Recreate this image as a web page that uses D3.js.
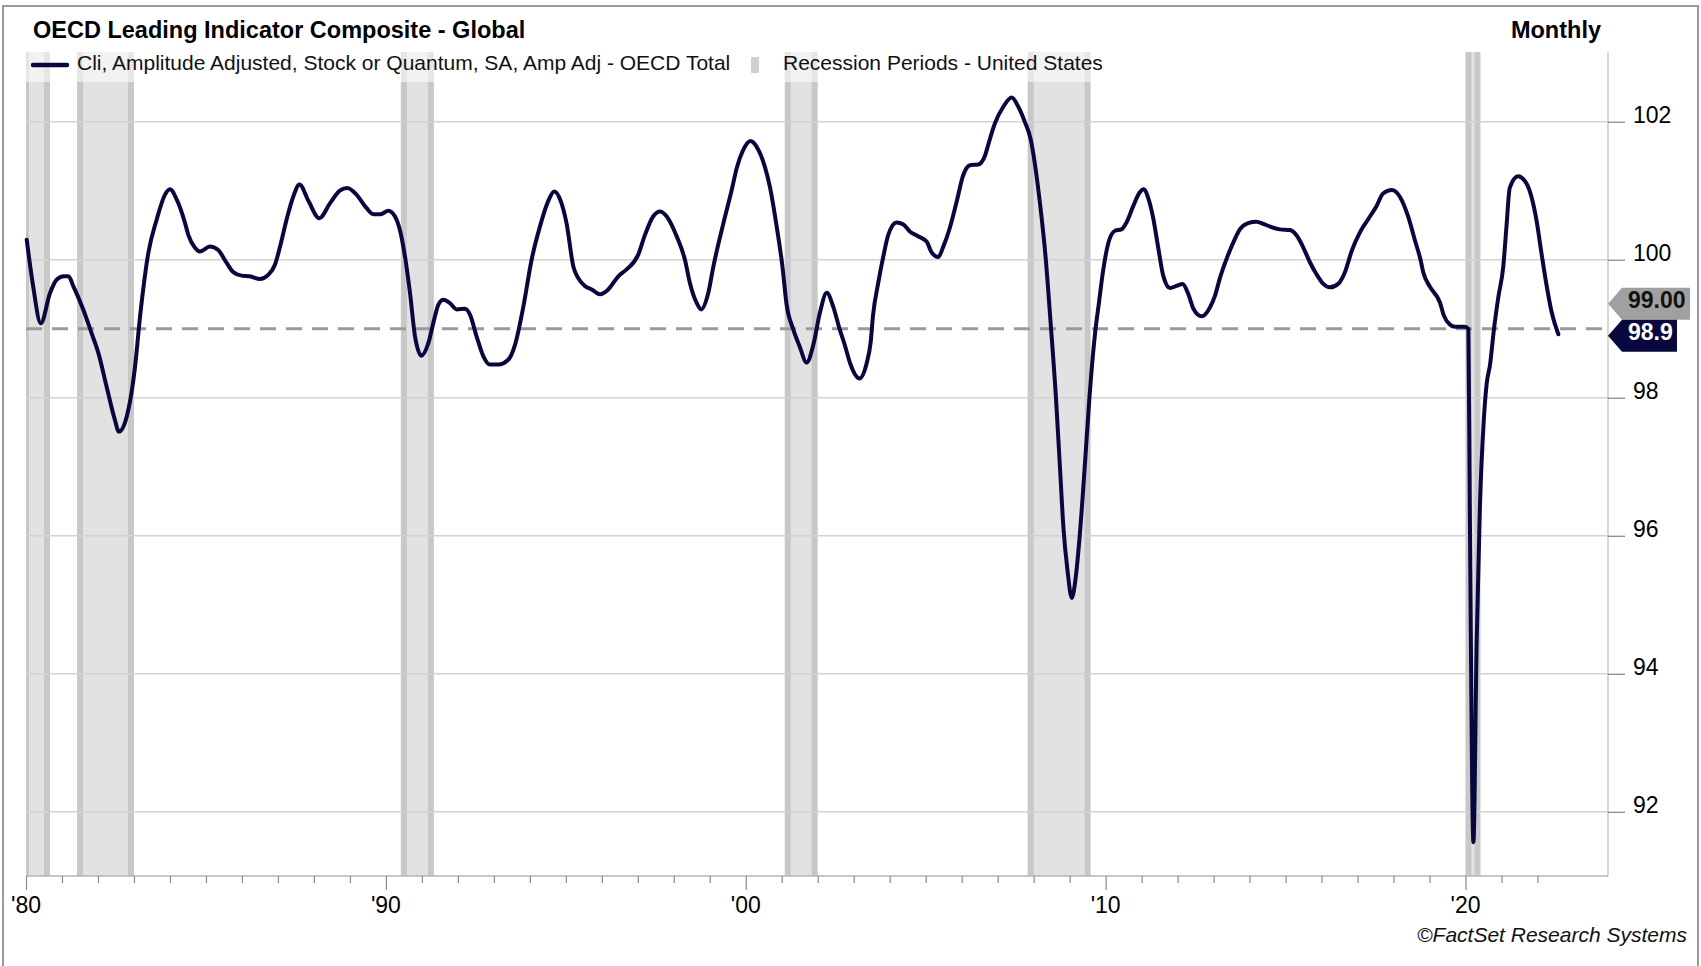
<!DOCTYPE html>
<html>
<head>
<meta charset="utf-8">
<script src="https://cdnjs.cloudflare.com/ajax/libs/d3/7.8.5/d3.min.js"></script>
<style>
body { margin: 0; background: #fff; }
text { font-family: "Liberation Sans", Arial, sans-serif; }
</style>
</head>
<body>
<div id="chart"></div>
<script>
// data (decimal year, index value)
var dates = [1980.02,1980.20,1980.41,1980.67,1980.85,1981.05,1981.18,1981.32,1981.59,1981.82,
  1982.01,1982.24,1982.47,1982.58,1982.80,1983.03,1983.17,1983.40,1983.63,1983.86,
  1984.00,1984.19,1984.42,1984.51,1984.70,1984.83,1985.11,1985.34,1985.58,1985.76,
  1985.99,1986.22,1986.50,1986.73,1986.92,1987.06,1987.24,1987.43,1987.60,1987.85,
  1988.15,1988.45,1988.72,1988.93,1989.19,1989.46,1989.65,1989.85,1990.07,1990.25,
  1990.39,1990.53,1990.67,1990.81,1990.99,1991.18,1991.34,1991.46,1991.60,1991.78,
  1991.97,1992.20,1992.34,1992.52,1992.71,1992.89,1993.12,1993.40,1993.59,1993.82,
  1994.05,1994.28,1994.51,1994.68,1994.86,1995.02,1995.21,1995.35,1995.53,1995.72,
  1995.95,1996.18,1996.46,1996.69,1997.01,1997.20,1997.43,1997.62,1997.80,1998.08,
  1998.31,1998.45,1998.64,1998.76,1998.96,1999.10,1999.38,1999.61,1999.75,1999.93,
  2000.13,2000.30,2000.53,2000.67,2000.86,2001.02,2001.13,2001.32,2001.50,2001.69,
  2001.88,2002.06,2002.25,2002.43,2002.60,2002.76,2002.90,2003.16,2003.36,2003.47,
  2003.54,2003.68,2003.82,2003.96,2004.19,2004.38,2004.56,2004.79,2005.03,2005.16,
  2005.35,2005.49,2005.67,2005.86,2006.04,2006.23,2006.46,2006.65,2006.74,2006.92,
  2007.16,2007.39,2007.57,2007.76,2007.92,2008.04,2008.18,2008.33,2008.47,2008.62,
  2008.73,2008.83,2008.94,2009.06,2009.17,2009.28,2009.42,2009.55,2009.70,2009.82,
  2009.93,2010.07,2010.26,2010.44,2010.58,2010.77,2010.94,2011.06,2011.18,2011.32,
  2011.46,2011.60,2011.79,2011.97,2012.14,2012.30,2012.44,2012.67,2012.90,2013.04,
  2013.18,2013.41,2013.59,2013.73,2013.96,2014.19,2014.38,2014.57,2014.84,2015.12,
  2015.31,2015.49,2015.68,2015.86,2016.05,2016.23,2016.46,2016.65,2016.84,2017.07,
  2017.30,2017.53,2017.71,2017.95,2018.18,2018.41,2018.59,2018.75,2018.83,2019.01,
  2019.29,2019.40,2019.57,2019.71,2019.98,2020.08,2020.12,2020.22,2020.31,2020.40,
  2020.51,2020.59,2020.68,2020.79,2020.91,2021.05,2021.14,2021.23,2021.46,2021.70,
  2021.97,2022.11,2022.25,2022.39,2022.58];

var cliValues = [100.29,99.61,99.08,99.52,99.71,99.76,99.76,99.61,99.28,98.94,
  98.65,98.16,97.68,97.51,97.73,98.45,99.18,100.10,100.58,100.94,
  101.02,100.87,100.53,100.36,100.17,100.12,100.19,100.14,99.95,99.82,
  99.77,99.76,99.72,99.78,99.93,100.19,100.58,100.92,101.09,100.85,
  100.60,100.82,101.00,101.04,100.94,100.75,100.66,100.66,100.71,100.63,
  100.43,100.05,99.52,98.89,98.61,98.79,99.13,99.35,99.42,99.37,
  99.28,99.29,99.20,98.89,98.60,98.48,98.48,98.55,98.77,99.32,
  100.00,100.48,100.85,100.99,100.85,100.53,99.90,99.73,99.62,99.57,
  99.50,99.57,99.76,99.86,100.07,100.36,100.63,100.70,100.63,100.34,
  100.00,99.66,99.37,99.28,99.52,99.90,100.53,101.01,101.33,101.59,
  101.72,101.64,101.35,101.06,100.48,99.90,99.37,98.99,98.74,98.51,
  98.77,99.23,99.52,99.32,99.01,98.75,98.50,98.28,98.50,98.80,
  99.21,99.66,100.04,100.36,100.54,100.51,100.41,100.34,100.26,100.11,
  100.04,100.19,100.46,100.84,101.22,101.37,101.38,101.51,101.67,101.97,
  102.22,102.35,102.22,101.99,101.74,101.37,100.80,100.05,99.10,98.00,
  97.00,96.10,95.50,95.10,95.40,96.00,97.00,98.00,98.90,99.40,
  99.84,100.23,100.42,100.44,100.54,100.78,100.97,101.02,100.90,100.61,
  100.18,99.77,99.59,99.62,99.65,99.50,99.29,99.18,99.31,99.48,
  99.74,100.08,100.30,100.44,100.53,100.55,100.52,100.48,100.44,100.43,
  100.35,100.18,99.96,99.79,99.65,99.60,99.65,99.82,100.13,100.40,
  100.59,100.78,100.96,101.01,100.91,100.62,100.29,100.00,99.81,99.61,
  99.38,99.19,99.06,99.03,99.03,99.00,96.40,91.56,94.45,96.40,
  97.69,98.21,98.47,98.99,99.45,99.90,100.49,101.04,101.21,101.10,
  100.58,100.10,99.64,99.25,98.92];

// US recessions, decimal years
var recessionStarts = [1980.0, 1981.5, 1990.5, 2001.167, 2007.917, 2020.083];
var recessionEnds = [1980.583, 1982.917, 1991.25, 2001.917, 2009.5, 2020.333];

var yTicks = [92, 94, 96, 98, 100, 102];
var xLabelYears = [1980, 1990, 2000, 2010, 2020];
var xLabels = ["'80", "'90", "'00", "'10", "'20"];

var refLevel = 99.0;
var lastValue = 98.9;

var svgWidth = 1701;
var svgHeight = 966;

var plot = {left: 26, right: 1608, top: 52, bottom: 876};

var navy = "#08083f";

var svg = d3.select("#chart").append("svg").attr("width", svgWidth).attr("height", svgHeight);

// outer frame
svg.append("rect").attr("x", 3).attr("y", 6).attr("width", 1695).attr("height", 1000)
    .attr("fill", "#fff").attr("stroke", "#9a9a9a").attr("stroke-width", 2);

svg.append("clipPath").attr("id", "plotClip").append("rect")
    .attr("x", plot.left).attr("y", plot.top)
    .attr("width", plot.right - plot.left).attr("height", plot.bottom - plot.top);

var xScale = d3.scaleLinear().domain([1980, 2023.96]).range([plot.left, plot.right]);
var yScale = d3.scaleLinear().domain([91.07, 103.01]).range([plot.bottom, plot.top]);

var recessions = recessionStarts.map(function(s, i) { return {start: s, end: recessionEnds[i]}; });

var barGroup = svg.append("g").attr("clip-path", "url(#plotClip)");

barGroup.selectAll(".rec").data(recessions).enter().append("rect")
    .attr("class", "rec")
    .attr("x", d => xScale(d.start)).attr("y", plot.top)
    .attr("width", d => xScale(d.end) - xScale(d.start)).attr("height", plot.bottom - plot.top)
    .attr("fill", "#e2e2e2");

// darker edges on each shaded period
var edges = [];
recessions.forEach(function(d) { edges.push(d.start); edges.push(d.end); });
barGroup.selectAll(".recEdge").data(edges).enter().append("rect")
    .attr("class", "recEdge")
    .attr("x", d => xScale(d) - 3).attr("y", plot.top)
    .attr("width", 6).attr("height", plot.bottom - plot.top)
    .attr("fill", "#c8c8c8");

// gridlines
svg.append("g").selectAll("line").data(yTicks).enter().append("line")
    .attr("x1", plot.left).attr("x2", plot.right)
    .attr("y1", d => yScale(d)).attr("y2", d => yScale(d))
    .attr("stroke", "#d2d2d2").attr("stroke-width", 1.5);

// legend backdrop
svg.append("rect").attr("x", plot.left).attr("y", plot.top).attr("width", 1084).attr("height", 30)
    .attr("fill", "#fff").attr("opacity", 0.55);

// plot frame
svg.append("line").attr("x1", plot.right).attr("x2", plot.right).attr("y1", plot.top).attr("y2", plot.bottom)
    .attr("stroke", "#c8c8c8").attr("stroke-width", 1.5);
svg.append("line").attr("x1", plot.left).attr("x2", plot.right).attr("y1", plot.bottom).attr("y2", plot.bottom)
    .attr("stroke", "#b4b4b4").attr("stroke-width", 1.5);

// reference level
svg.append("line").attr("x1", plot.left).attr("x2", plot.right)
    .attr("y1", yScale(refLevel)).attr("y2", yScale(refLevel))
    .attr("stroke", "#9a9a9a").attr("stroke-width", 3.2).attr("stroke-dasharray", "16,10");

// series
var cliData = dates.map(function(d, i) { return {date: d, value: cliValues[i]}; });
var line = d3.line().x(d => xScale(d.date)).y(d => yScale(d.value)).curve(d3.curveMonotoneX);

svg.append("path").datum(cliData).attr("d", line)
    .attr("fill", "none").attr("stroke", navy).attr("stroke-width", 4)
    .attr("stroke-linejoin", "round").attr("stroke-linecap", "round");

// y axis on the right
var yAxis = d3.axisRight(yScale).tickValues(yTicks).tickSize(17).tickPadding(8);
var yAxisGroup = svg.append("g").attr("transform", `translate(${plot.right},0)`).call(yAxis)
    .attr("font-family", "'Liberation Sans', Arial, sans-serif").attr("font-size", "23px");
yAxisGroup.select(".domain").remove();
yAxisGroup.selectAll("line").attr("stroke", "#808080").attr("stroke-width", 1.2);
yAxisGroup.selectAll("text").attr("fill", "#000").attr("dy", "0.02em");

// x axis
var xAxis = d3.axisBottom(xScale).tickValues(d3.range(1980, 2023)).tickSize(7).tickFormat("");
var xAxisGroup = svg.append("g").attr("transform", `translate(0,${plot.bottom})`).call(xAxis);
xAxisGroup.select(".domain").remove();
xAxisGroup.selectAll("line").attr("stroke", "#8a8a8a").attr("stroke-width", 1.2)
    .attr("y2", d => (xLabelYears.indexOf(d) >= 0 ? 14 : 7));

svg.append("g").selectAll("text").data(xLabelYears).enter().append("text")
    .attr("x", d => xScale(d)).attr("y", 913)
    .attr("text-anchor", "middle").attr("font-size", "23px").attr("fill", "#000")
    .text((d, i) => xLabels[i]);

// title and frequency
svg.append("text").attr("x", 33).attr("y", 38).attr("font-size", "23.5px").attr("font-weight", "bold")
    .text("OECD Leading Indicator Composite - Global");
svg.append("text").attr("x", 1601).attr("y", 38).attr("text-anchor", "end")
    .attr("font-size", "23.5px").attr("font-weight", "bold").text("Monthly");

// legend
svg.append("line").attr("x1", 33).attr("x2", 67).attr("y1", 65).attr("y2", 65)
    .attr("stroke", navy).attr("stroke-width", 4.5).attr("stroke-linecap", "round");
svg.append("text").attr("x", 77).attr("y", 70).attr("font-size", "21px").attr("fill", "#111")
    .text("Cli, Amplitude Adjusted, Stock or Quantum, SA, Amp Adj - OECD Total");
svg.append("rect").attr("x", 751).attr("y", 57).attr("width", 8).attr("height", 16).attr("fill", "#d0d0d0");
svg.append("text").attr("x", 783).attr("y", 70).attr("font-size", "21px").attr("fill", "#111")
    .text("Recession Periods - United States");

// value flags on the right edge
function flag(cy, w) {
    var x0 = plot.right;
    return `M${x0},${cy} L${x0 + 14},${cy - 16} L${x0 + w},${cy - 16} L${x0 + w},${cy + 16} L${x0 + 14},${cy + 16} Z`;
}

var refY = yScale(refLevel) - 25;
var lastY = yScale(lastValue);

svg.append("path").attr("d", flag(refY, 82)).attr("fill", "#a0a0a0");
svg.append("text").attr("x", 1628).attr("y", refY + 4).attr("font-size", "23px").attr("font-weight", "bold")
    .attr("fill", "#111").text(d3.format(".2f")(refLevel));

svg.append("path").attr("d", flag(lastY, 69)).attr("fill", navy);
svg.append("text").attr("x", 1628).attr("y", lastY + 4).attr("font-size", "23px").attr("font-weight", "bold")
    .attr("fill", "#fff").text(d3.format(".1f")(lastValue));

// source
svg.append("text").attr("x", 1687).attr("y", 942).attr("text-anchor", "end")
    .attr("font-size", "21px").attr("font-style", "italic").attr("fill", "#111")
    .text("\u00A9FactSet Research Systems");
</script>
</body>
</html>
